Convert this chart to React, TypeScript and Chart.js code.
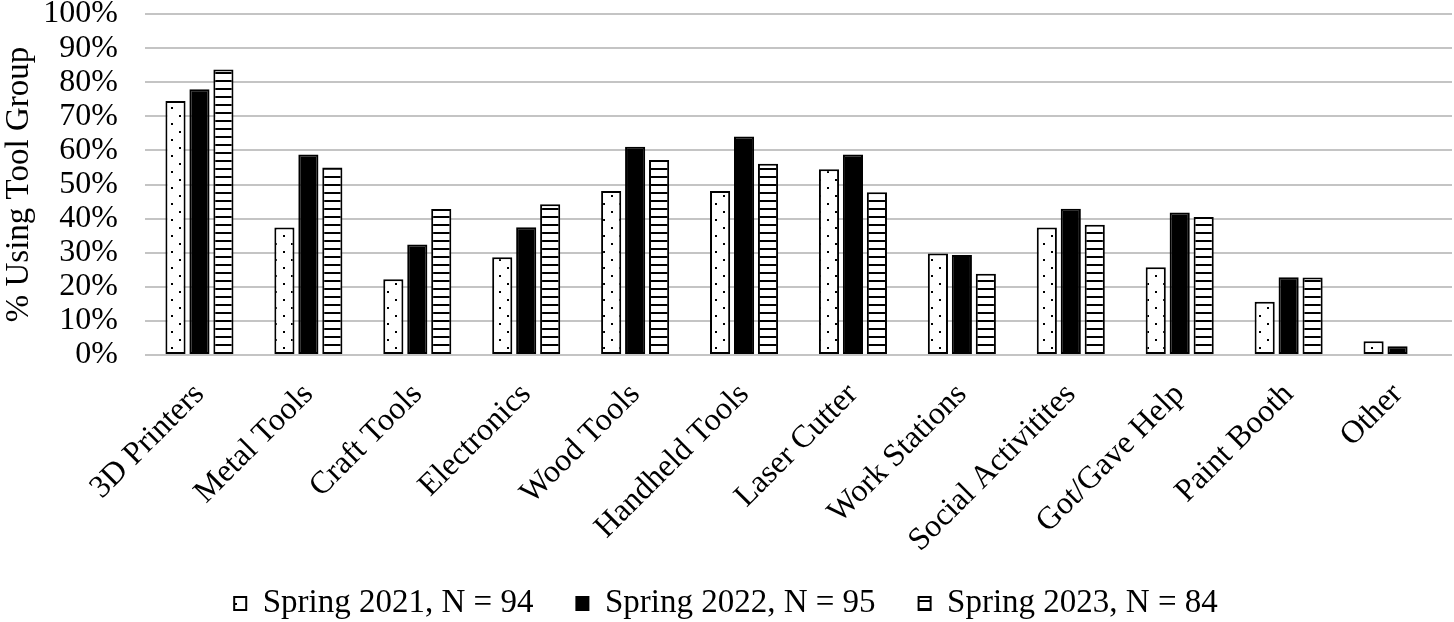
import React, { useEffect, useRef } from 'react';
import { Chart, registerables } from 'chart.js';

Chart.register(...registerables);

const categories = [
  '3D Printers', 'Metal Tools', 'Craft Tools', 'Electronics', 'Wood Tools', 'Handheld Tools',
  'Laser Cutter', 'Work Stations', 'Social Activitites', 'Got/Gave Help', 'Paint Booth', 'Other',
];
const spring2021 = [74.5, 37.4, 22.2, 28.7, 48.1, 48.1, 54.5, 29.8, 37.4, 25.7, 15.6, 4.0];
const spring2022 = [77.9, 58.8, 32.4, 37.5, 61.1, 64.1, 58.8, 29.3, 42.9, 41.8, 22.8, 2.6];
const spring2023 = [83.7, 55.0, 42.8, 44.2, 57.2, 56.1, 47.7, 23.8, 38.2, 40.5, 22.7, 0];
const seriesLabels = ['Spring 2021, N = 94', 'Spring 2022, N = 95', 'Spring 2023, N = 84'];
const yAxisTitle = '% Using Tool Group';
const yMin = 0;
const yMax = 100;
const yStep = 10;

const FONT = "'Liberation Serif', 'Times New Roman', serif";

function makeDots(ctx: CanvasRenderingContext2D): CanvasPattern | string {
  const c = document.createElement('canvas');
  c.width = 16;
  c.height = 16;
  const g = c.getContext('2d')!;
  g.fillStyle = '#fff';
  g.fillRect(0, 0, 16, 16);
  g.fillStyle = '#000';
  g.fillRect(3, 3, 2, 2);
  g.fillRect(11, 11, 2, 2);
  return ctx.createPattern(c, 'repeat') || '#fff';
}

function makeStripes(ctx: CanvasRenderingContext2D): CanvasPattern | string {
  const c = document.createElement('canvas');
  c.width = 8;
  c.height = 8;
  const g = c.getContext('2d')!;
  g.fillStyle = '#fff';
  g.fillRect(0, 0, 8, 8);
  g.fillStyle = '#000';
  g.fillRect(0, 0, 8, 2);
  return ctx.createPattern(c, 'repeat') || '#fff';
}

const legendShift = {
  id: 'legendShift',
  afterLayout(chart: any) {
    const lg = chart.legend;
    if (!lg) return;
    lg.top = 544;
    lg.bottom = 622;
    lg.height = 78;
  },
};

export default function App() {
  const ref = useRef<HTMLCanvasElement | null>(null);

  useEffect(() => {
    const canvas = ref.current;
    if (!canvas) return;
    const ctx = canvas.getContext('2d')!;
    const dots = makeDots(ctx);
    const stripes = makeStripes(ctx);

    const common = {
      borderColor: '#000',
      borderWidth: 2,
      borderSkipped: false as const,
      categoryPercentage: 0.66,
      barPercentage: 0.84,
    };

    const chart = new Chart(canvas, {
      type: 'bar',
      data: {
        labels: categories,
        datasets: [
          { label: seriesLabels[0], data: spring2021, backgroundColor: dots as any, ...common },
          { label: seriesLabels[1], data: spring2022, backgroundColor: '#000', ...common },
          { label: seriesLabels[2], data: spring2023, backgroundColor: stripes as any, ...common },
        ],
      },
      plugins: [legendShift],
      options: {
        responsive: false,
        animation: false,
        devicePixelRatio: 1,
        color: '#000',
        font: { family: FONT, size: 32 },
        layout: { padding: { top: 0, right: 2, left: 0, bottom: 0 } },
        plugins: {
          tooltip: { enabled: false },
          legend: {
            position: 'bottom',
            maxHeight: 57,
            labels: {
              color: '#000',
              font: { family: FONT, size: 33 },
              boxWidth: 12,
              boxHeight: 13,
              padding: 43,
            },
          },
        },
        scales: {
          x: {
            grid: { display: false },
            border: { display: false },
            ticks: {
              color: '#000',
              font: { family: FONT, size: 32 },
              maxRotation: 45,
              minRotation: 45,
              autoSkip: false,
              padding: 13,
            },
            afterFit: (scale: any) => {
              scale.height = 210;
            },
          },
          y: {
            min: yMin,
            max: yMax,
            border: { display: false },
            grid: {
              color: '#c4c4c4',
              lineWidth: 2,
              drawTicks: true,
              tickLength: 27,
              tickColor: 'rgba(0,0,0,0)',
            },
            ticks: {
              stepSize: yStep,
              autoSkip: false,
              color: '#000',
              font: { family: FONT, size: 32, lineHeight: 0.875 },
              padding: 0,
              callback: (v: any) => `${v}%`,
            },
            title: {
              display: true,
              text: yAxisTitle,
              color: '#000',
              font: { family: FONT, size: 33 },
              padding: 0,
            },
            afterFit: (scale: any) => {
              scale.width = 145;
            },
          },
        },
      },
    });
    return () => chart.destroy();
  }, []);

  return (
    <div style={{ position: 'fixed', left: 0, top: 0, width: 1454, height: 622, background: '#fff' }}>
      <canvas ref={ref} width={1454} height={622} style={{ display: 'block' }} />
    </div>
  );
}
